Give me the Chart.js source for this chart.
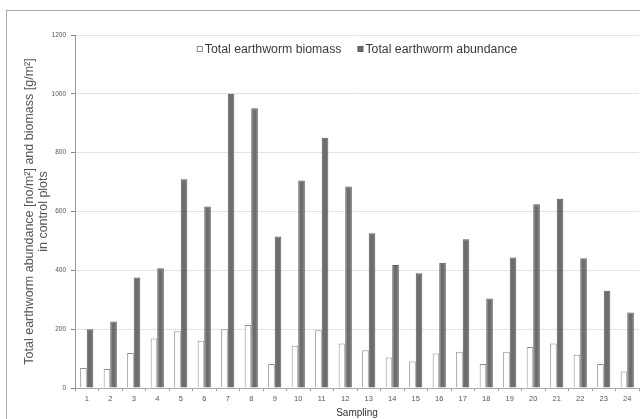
<!DOCTYPE html>
<html>
<head>
<meta charset="utf-8">
<script src="https://cdn.jsdelivr.net/npm/chart.js@4/dist/chart.umd.min.js"></script>
<style>
  html, body { margin: 0; padding: 0; background: #fff; }
  #wrap { position: relative; width: 640px; height: 419px; overflow: hidden; }
  #frame { position: absolute; left: 6px; top: 10px; width: 700px; height: 500px; border: 1.5px solid #a8a8a8; box-sizing: border-box; }
  #chart { position: absolute; left: 0; top: 0; }
</style>
</head>
<body>
<div id="wrap">
  <div id="frame"></div>
  <canvas id="chart" width="640" height="419"></canvas>
</div>
<script>
// samplings 1..24
const samplings = ['1', '2', '3', '4', '5', '6', '7', '8', '9', '10', '11', '12',
                   '13', '14', '15', '16', '17', '18', '19', '20', '21', '22', '23', '24'];

// g/m2
const biomass = [68, 65, 119, 168, 193, 161, 200, 214, 82, 144, 196, 151,
                 128, 104, 90, 117, 123, 82, 123, 139, 151, 113, 82, 56];

// no/m2
const abundance = [200, 226, 376, 407, 710, 617, 1000, 951, 515, 705, 851, 685,
                   526, 418, 390, 426, 506, 304, 444, 625, 643, 441, 331, 257];

const yTicks = [0, 200, 400, 600, 800, 1000, 1200];

const font = 'Liberation Sans, Arial, sans-serif';

// legend sits inside the plot, near the top
const innerLegend = {
    id: 'innerLegend',
    afterDraw(chart) {
        const { ctx, chartArea } = chart;
        const box = 5, gap = 3, spacing = 16;
        ctx.save();
        ctx.font = '12.3px ' + font;
        const items = chart.data.datasets.map(ds => ({
            text: ds.label,
            fill: ds.backgroundColor,
            stroke: ds.borderColor,
            w: box + gap + ctx.measureText(ds.label).width
        }));
        const total = items.reduce((a, it) => a + it.w, 0) + spacing * (items.length - 1);
        let x = (chartArea.left + chartArea.right) / 2 - total / 2;
        const y = chartArea.top + 14;
        ctx.textBaseline = 'middle';
        items.forEach(it => {
            ctx.fillStyle = it.fill;
            ctx.strokeStyle = it.stroke;
            ctx.lineWidth = 1;
            ctx.fillRect(x + 0.5, y - box / 2, box, box);
            ctx.strokeRect(x + 0.5, y - box / 2, box, box);
            ctx.fillStyle = '#3a3a3a';
            ctx.fillText(it.text, x + box + gap, y + 0.5);
            x += it.w + spacing;
        });
        ctx.restore();
    }
};

new Chart(document.getElementById('chart'), {
    type: 'bar',
    data: {
        labels: samplings,
        datasets: [
            {
                label: 'Total earthworm biomass',
                data: biomass,
                backgroundColor: '#ffffff',
                borderColor: '#8c8c8c',
                borderWidth: 1
            },
            {
                label: 'Total earthworm abundance',
                data: abundance,
                backgroundColor: '#6d6d6d',
                borderColor: '#5a5a5a',
                borderWidth: 1
            }
        ]
    },
    plugins: [innerLegend],
    options: {
        responsive: false,
        animation: false,
        layout: { padding: { left: 0, top: 35, right: 1, bottom: 0 } },
        datasets: {
            bar: { categoryPercentage: 0.56, barPercentage: 1.0 }
        },
        plugins: {
            tooltip: { enabled: false },
            legend: { display: false }
        },
        scales: {
            x: {
                offset: true,
                grid: { drawOnChartArea: false, drawTicks: true, tickLength: 3, offset: true, tickColor: '#999' },
                border: { color: '#aaa' },
                ticks: {
                    color: '#555',
                    padding: 3,
                    maxRotation: 0,
                    font: { family: font, size: 7.5 }
                },
                title: {
                    display: true,
                    text: 'Sampling',
                    color: '#333',
                    padding: { top: 1, bottom: 0 },
                    font: { family: font, size: 10 }
                },
                afterFit: s => { s.height = 31; }
            },
            y: {
                min: 0,
                max: 1200,
                afterBuildTicks: s => { s.ticks = yTicks.map(v => ({ value: v })); },
                grid: { color: '#e3e3e3', tickColor: '#888', tickLength: 4 },
                border: { color: '#999' },
                ticks: {
                    color: '#555',
                    padding: 5,
                    font: { family: font, size: 6.5 },
                    callback: v => String(v)
                },
                title: {
                    display: true,
                    text: ['Total earthworm abundance [no/m²] and biomass [g/m²]', 'in control plots'],
                    color: '#555',
                    padding: { top: 22, bottom: 0 },
                    font: { family: font, size: 12.5, lineHeight: 1.15 }
                },
                afterFit: s => { s.width = 75; }
            }
        }
    }
});
</script>
</body>
</html>
